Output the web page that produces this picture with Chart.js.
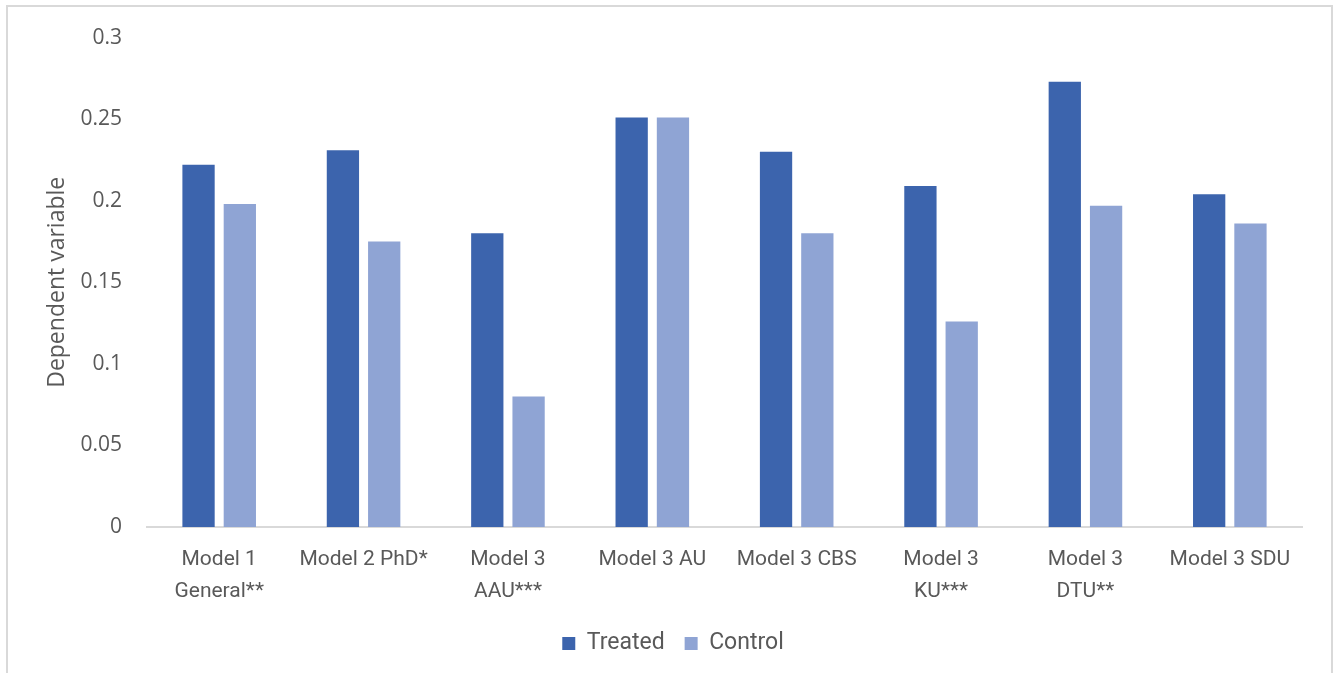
<!DOCTYPE html>
<html>
<head>
<meta charset="utf-8">
<script src="https://cdn.jsdelivr.net/npm/chart.js@4.4.1/dist/chart.umd.min.js"></script>
<style>
  html, body { margin: 0; padding: 0; background: #fff; }
  #frame {
    position: absolute; left: 6px; top: 5px;
    width: 1323px; height: 720px;
    border: 2px solid #d9d9d9;
  }
  #wrap { position: absolute; left: 0; top: 0; width: 1336px; height: 673px; }
</style>
</head>
<body>
<div id="frame"></div>
<div id="wrap"><canvas id="barChart" width="1336" height="673"></canvas></div>
<script>
// values
const categories = [
  ['Model 1', 'General**'],
  'Model 2 PhD*',
  ['Model 3', 'AAU***'],
  'Model 3 AU',
  'Model 3 CBS',
  ['Model 3', 'KU***'],
  ['Model 3', 'DTU**'],
  'Model 3 SDU'
];
const treated = [0.222, 0.231, 0.180, 0.251, 0.230, 0.209, 0.273, 0.204];
const control = [0.198, 0.175, 0.080, 0.251, 0.180, 0.126, 0.197, 0.186];
const yMin = 0, yMax = 0.3, yStep = 0.05;

const textColor = '#595959';
const labelFont = 'Roboto, "Noto Sans", sans-serif';
const numFont = '"Open Sans", "Noto Sans", sans-serif';

const barData = {
  labels: categories,
  datasets: [
    { label: 'Treated', data: treated, backgroundColor: '#3c64ad' },
    { label: 'Control', data: control, backgroundColor: '#8fa4d4' }
  ]
};

const barChart = new Chart(document.getElementById('barChart'), {
  type: 'bar',
  data: barData,
  options: {
    responsive: false,
    animation: false,
    devicePixelRatio: 1,
    categoryPercentage: 0.572,
    barPercentage: 0.782,
    layout: { padding: { left: 44, right: 34, top: 35, bottom: 8 } },
    plugins: {
      tooltip: { enabled: false },
      legend: {
        position: 'bottom',
        labels: {
          boxWidth: 13, boxHeight: 13, padding: 20,
          color: textColor,
          font: { family: labelFont, size: 23 }
        }
      }
    },
    scales: {
      x: {
        grid: { display: false, drawTicks: false },
        border: { display: true, color: '#d9d9d9', width: 2 },
        ticks: {
          padding: 17, maxRotation: 0, autoSkip: false,
          color: textColor,
          font: { family: labelFont, size: 21, lineHeight: 1.5 }
        },
        afterFit: (s) => { s.height = 85; }
      },
      y: {
        min: yMin, max: yMax,
        grid: { display: false, drawTicks: false },
        border: { display: false },
        ticks: {
          stepSize: yStep, padding: 25,
          color: textColor,
          font: { family: numFont, size: 21 },
          callback: (v) => String(+v.toFixed(2))
        },
        title: {
          display: true, text: 'Dependent variable',
          color: textColor,
          font: { family: numFont, size: 23 },
          padding: { top: 0, bottom: 0 }
        },
        afterFit: (s) => { s.width = 103; }
      }
    }
  }
});
</script>
</body>
</html>
